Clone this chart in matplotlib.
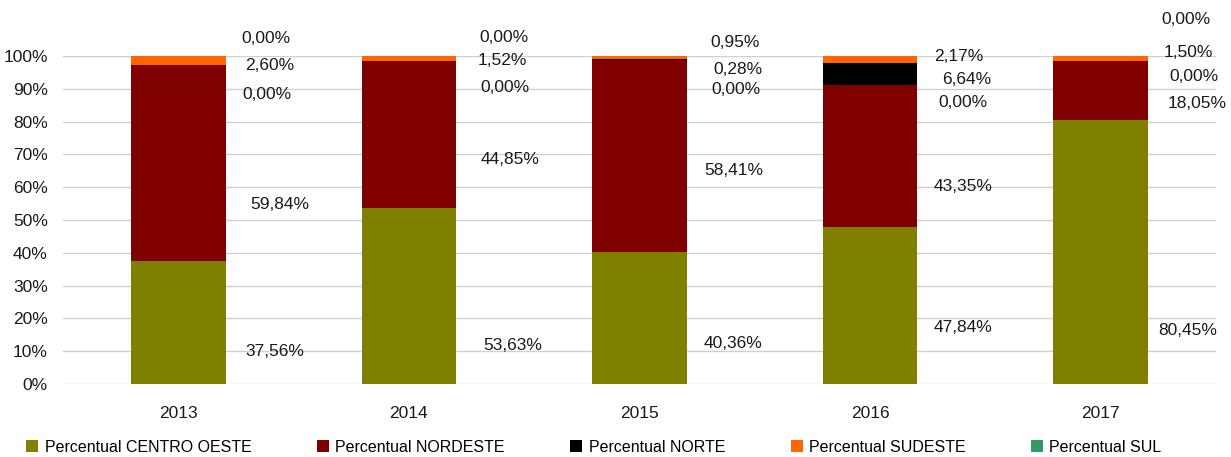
import numpy as np
import matplotlib.pyplot as plt

plt.rcParams['font.family'] = ['Liberation Sans', 'DejaVu Sans']

years = ['2013', '2014', '2015', '2016', '2017']
series_names = ['Percentual CENTRO OESTE', 'Percentual NORDESTE', 'Percentual NORTE',
                'Percentual SUDESTE', 'Percentual SUL']

# percent share per region, one list per series (same order as years)
centro_oeste = [37.56, 53.63, 40.36, 47.84, 80.45]
nordeste = [59.84, 44.85, 58.41, 43.35, 18.05]
norte = [0.00, 0.00, 0.28, 6.64, 0.00]
sudeste = [2.60, 1.52, 0.95, 2.17, 1.50]
sul = [0.00, 0.00, 0.00, 0.00, 0.00]

colors = ['#808000', '#800000', '#000000', '#ff6600', '#339966']

# where the data labels were dragged to (y in %, x offset in px from bar centre)
label_y = [
    [9.8, 54.6, 88.4, 97.0, 105.2],
    [11.6, 68.3, 90.5, 98.5, 105.5],
    [12.5, 65.2, 96.0, 104.0, 89.9],
    [17.1, 60.1, 92.7, 99.7, 85.7],
    [16.2, 85.4, 93.6, 101.0, 111.0],
]
label_dx_px = [
    [96, 101, 89, 91, 88],
    [104, 101, 96, 93, 95],
    [94, 94, 98, 96, 96],
    [93, 93, 97, 89, 93],
    [87, 96, 93, 88, 85],
]


def main():
    data = np.array([centro_oeste, nordeste, norte, sudeste, sul])
    x = np.arange(len(years))

    fig = plt.figure(figsize=(12.31, 4.57), dpi=100)
    ax = fig.add_axes([63 / 1231, 73 / 457, 1153 / 1231, 328 / 457])

    bottom = np.zeros(len(years))
    for i, name in enumerate(series_names):
        ax.bar(x, data[i], 0.41, bottom=bottom, color=colors[i], label=name, zorder=3)
        bottom += data[i]

    px_per_cat = 1153 / 5
    for j in range(len(years)):
        for i in range(len(series_names)):
            txt = f'{data[i][j]:.2f}'.replace('.', ',') + '%'
            ax.text(x[j] + label_dx_px[j][i] / px_per_cat, label_y[j][i], txt,
                    ha='center', va='center', fontsize=12.5, color='#1a1a1a', zorder=4)

    ax.set_xlim(-0.5, len(years) - 0.5)
    ax.set_ylim(0, 100)
    ax.set_yticks(np.arange(0, 101, 10))
    ax.set_yticklabels([f'{v}%' for v in range(0, 101, 10)])
    ax.set_xticks(x)
    ax.set_xticklabels(years)
    ax.tick_params(axis='both', length=0, labelsize=12.5, colors='#1a1a1a')
    ax.tick_params(axis='x', pad=16)
    ax.tick_params(axis='y', pad=11)
    ax.grid(axis='y', color='#d0d0d0', linewidth=1, zorder=0)
    for s in ax.spines.values():
        s.set_visible(False)

    fig.legend(loc='center', bbox_to_anchor=(594 / 1231, 1 - 447 / 457), ncol=5,
               frameon=False, fontsize=11.5, handlelength=0.75, handleheight=0.75,
               handletextpad=0.4, columnspacing=4.1, borderaxespad=0)

    fig.savefig('out.png', dpi=100)


if __name__ == "__main__":
    main()
